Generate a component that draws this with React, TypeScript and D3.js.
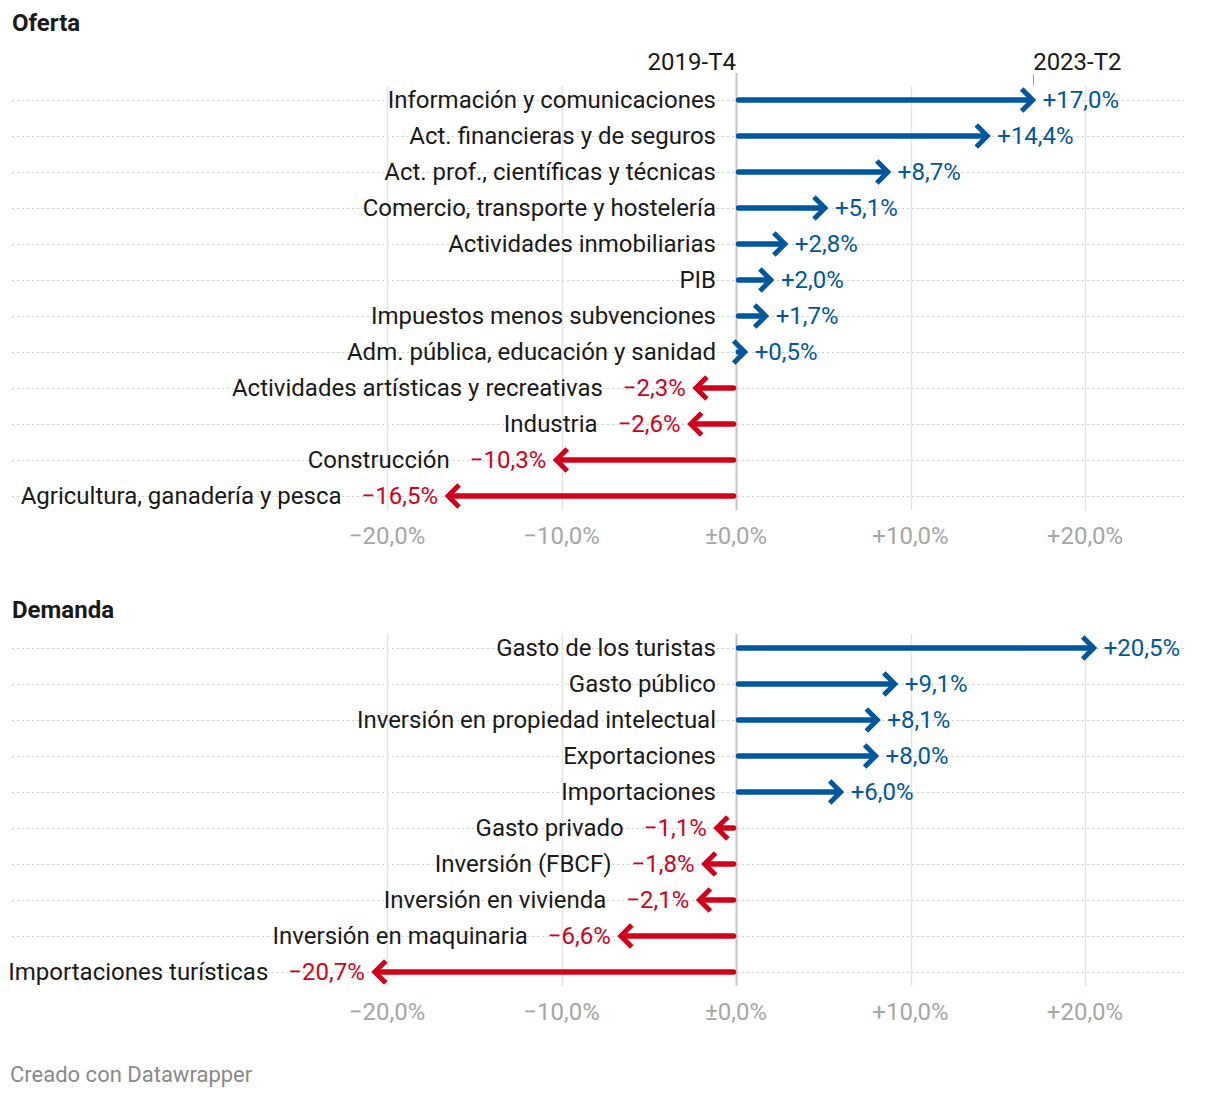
import React, { useEffect, useRef } from "react";
import * as d3 from "d3";

const ofertaCats = [
  "Información y comunicaciones",
  "Act. financieras y de seguros",
  "Act. prof., científicas y técnicas",
  "Comercio, transporte y hostelería",
  "Actividades inmobiliarias",
  "PIB",
  "Impuestos menos subvenciones",
  "Adm. pública, educación y sanidad",
  "Actividades artísticas y recreativas",
  "Industria",
  "Construcción",
  "Agricultura, ganadería y pesca",
];
const ofertaVals = [17.0, 14.4, 8.7, 5.1, 2.8, 2.0, 1.7, 0.5, -2.3, -2.6, -10.3, -16.5];

const demandaCats = [
  "Gasto de los turistas",
  "Gasto público",
  "Inversión en propiedad intelectual",
  "Exportaciones",
  "Importaciones",
  "Gasto privado",
  "Inversión (FBCF)",
  "Inversión en vivienda",
  "Inversión en maquinaria",
  "Importaciones turísticas",
];
const demandaVals = [20.5, 9.1, 8.1, 8.0, 6.0, -1.1, -1.8, -2.1, -6.6, -20.7];

const tickVals = [-20, -10, 0, 10, 20];
const headerStart = "2019-T4";
const headerEnd = "2023-T2";
const titles = ["Oferta", "Demanda"];

const BLUE = "#00579b";
const RED = "#d0021b";
const FONT = "Roboto, sans-serif";
const FS = 24;

function fmtVal(v: number) {
  const s = Math.abs(v).toFixed(1).replace(".", ",");
  return (v >= 0 ? "+" : "\u2212") + s + "%";
}
function fmtTick(v: number) {
  const s = Math.abs(v).toFixed(1).replace(".", ",");
  return (v > 0 ? "+" : v < 0 ? "\u2212" : "\u00b1") + s + "%";
}

export default function App() {
  const ref = useRef<SVGSVGElement>(null);

  useEffect(() => {
    const svg = d3.select(ref.current);
    svg.selectAll("*").remove();
    const x = d3.scaleLinear().domain([-20, 20]).range([387, 1085]);
    const rowH = 36;

    const drawPanel = (
      title: string,
      cats: string[],
      vals: number[],
      titleY: number,
      firstRow: number,
      withHeader: boolean
    ) => {
      const g = svg.append("g");
      g.append("text")
        .attr("x", 12)
        .attr("y", titleY)
        .attr("font-family", FONT)
        .attr("font-weight", 700)
        .attr("font-size", FS)
        .attr("fill", "#1a1a1a")
        .text(title);

      const y = (i: number) => firstRow + i * rowH;
      const lastRow = y(cats.length - 1);

      cats.forEach((_, i) => {
        g.append("line")
          .attr("x1", 12)
          .attr("x2", 1186)
          .attr("y1", y(i) + 0.5)
          .attr("y2", y(i) + 0.5)
          .attr("stroke", "#cfcfcf")
          .attr("stroke-width", 1)
          .attr("stroke-dasharray", "2,3");
      });

      tickVals.forEach((t) => {
        g.append("line")
          .attr("x1", Math.round(x(t)) + 0.5)
          .attr("x2", Math.round(x(t)) + 0.5)
          .attr("y1", t === 0 && withHeader ? firstRow - 27 : firstRow - 14)
          .attr("y2", lastRow + 14)
          .attr("stroke", t === 0 ? "#c4c4c4" : "#e4e4e4")
          .attr("stroke-width", t === 0 ? 2 : 1.5);
        g.append("text")
          .attr("x", x(t))
          .attr("y", lastRow + 48)
          .attr("text-anchor", "middle")
          .attr("font-family", FONT)
          .attr("font-size", FS)
          .attr("fill", "#a6a6a6")
          .text(fmtTick(t));
      });

      if (withHeader) {
        g.append("text")
          .attr("x", x(0))
          .attr("y", firstRow - 30)
          .attr("text-anchor", "end")
          .attr("font-family", FONT)
          .attr("font-size", FS)
          .attr("fill", "#1a1a1a")
          .text(headerStart);
        g.append("line")
          .attr("x1", Math.round(x(vals[0])) + 0.5)
          .attr("x2", Math.round(x(vals[0])) + 0.5)
          .attr("y1", firstRow - 25)
          .attr("y2", firstRow - 15)
          .attr("stroke", "#999")
          .attr("stroke-width", 1);
        g.append("text")
          .attr("x", x(vals[0]) + 0.5)
          .attr("y", firstRow - 30)
          .attr("font-family", FONT)
          .attr("font-size", FS)
          .attr("fill", "#1a1a1a")
          .text(headerEnd);
      }

      cats.forEach((c, i) => {
        const v = vals[i];
        const col = v >= 0 ? BLUE : RED;
        const yy = y(i);
        const tip = x(v);
        const dir = v >= 0 ? 1 : -1;
        g.append("line")
          .attr("x1", x(0) + dir * 2.5)
          .attr("x2", tip - dir * 3)
          .attr("y1", yy)
          .attr("y2", yy)
          .attr("stroke", col)
          .attr("stroke-width", 5.5)
          .attr("stroke-linecap", "round");
        const a = 11;
        g.append("path")
          .attr(
            "d",
            `M${tip - dir * a},${yy - a}L${tip},${yy}L${tip - dir * a},${yy + a}`
          )
          .attr("fill", "none")
          .attr("stroke", col)
          .attr("stroke-width", 5)
          .attr("stroke-linejoin", "miter");

        const valText = g
          .append("text")
          .attr("x", tip + dir * 10)
          .attr("y", yy + 8)
          .attr("text-anchor", v >= 0 ? "start" : "end")
          .attr("font-family", FONT)
          .attr("font-size", FS)
          .attr("fill", col)
          .text(fmtVal(v));
        let labelEnd = x(0) - 20;
        if (v < 0) {
          const w = (valText.node() as SVGTextElement).getComputedTextLength();
          const start = tip - 10 - w;
          labelEnd = Math.min(labelEnd, start - 20);
        }
        g.append("text")
          .attr("x", labelEnd)
          .attr("y", yy + 8)
          .attr("text-anchor", "end")
          .attr("font-family", FONT)
          .attr("font-size", FS)
          .attr("fill", "#1a1a1a")
          .text(c);
      });
    };

    drawPanel(titles[0], ofertaCats, ofertaVals, 31, 100, true);
    drawPanel(titles[1], demandaCats, demandaVals, 618, 648, false);

    svg
      .append("text")
      .attr("x", 10)
      .attr("y", 1082)
      .attr("font-family", FONT)
      .attr("font-size", 22)
      .attr("fill", "#8a8a8a")
      .text("Creado con Datawrapper");
  }, []);

  return (
    <svg
      ref={ref}
      width={1220}
      height={1098}
      style={{ position: "absolute", left: 0, top: 0, background: "#fff" }}
    />
  );
}
